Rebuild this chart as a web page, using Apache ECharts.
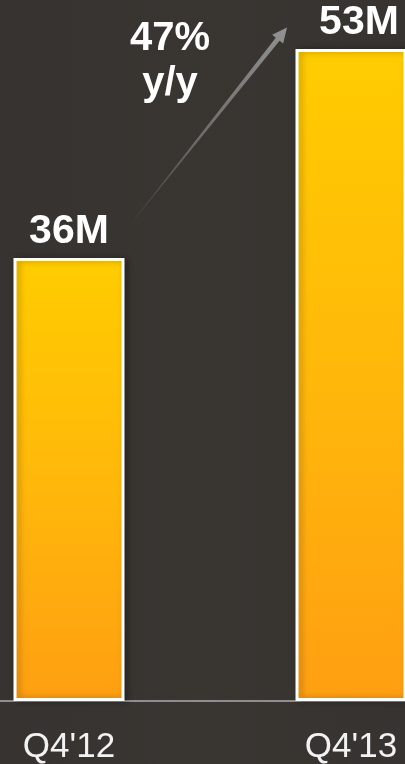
<!DOCTYPE html>
<html>
<head>
<meta charset="utf-8">
<script src="https://cdn.jsdelivr.net/npm/echarts@6/dist/echarts.min.js"></script>
<style>
  html, body { margin: 0; padding: 0; background: #373430; }
  #chart { width: 405px; height: 764px; }
</style>
</head>
<body>
<div id="chart"></div>
<script>
// Quarterly totals (millions)
const quarters = ["Q4'12", "Q4'13"];
const totals = [36, 53];
const valueLabels = ['36M', '53M'];
const growthText = ['47%', 'y/y'];

const FONT = '"Liberation Sans", Arial, Helvetica, sans-serif';

const chart = echarts.init(document.getElementById('chart'), null, { renderer: 'canvas' });

const barFill = new echarts.graphic.LinearGradient(0, 0, 0, 1, [
  { offset: 0, color: '#ffcc00' },
  { offset: 0.5, color: '#ffb80a' },
  { offset: 1, color: '#ff9f12' }
]);

chart.setOption({
  backgroundColor: {
    type: 'linear', x: 0, y: 0, x2: 1, y2: 0,
    colorStops: [
      { offset: 0, color: '#363330' },
      { offset: 0.5, color: '#393632' },
      { offset: 1, color: '#363330' }
    ]
  },
  animation: false,
  grid: { left: -72, right: -87, top: 12, bottom: 63, containLabel: false, outerBoundsMode: 'none' },
  xAxis: {
    type: 'category',
    data: quarters,
    axisLine: { show: true, lineStyle: { color: '#8e8e8e', width: 2 } },
    axisTick: { show: false },
    axisLabel: {
      color: '#f2f2f2',
      fontFamily: FONT,
      fontSize: 35,
      margin: 29
    }
  },
  yAxis: {
    type: 'value',
    min: 0,
    max: 56,
    show: false,
    splitLine: { show: false }
  },
  series: [{
    type: 'bar',
    barWidth: 111,
    data: totals.map((v, i) => ({
      value: v,
      label: {
        show: true,
        position: 'top',
        distance: 6,
        offset: i === 1 ? [8, 0] : [0, 0],
        formatter: valueLabels[i],
        color: '#ffffff',
        fontFamily: FONT,
        fontWeight: 'bold',
        fontSize: 41
      }
    })),
    itemStyle: {
      color: barFill,
      borderColor: '#ffffff',
      borderWidth: 3,
      shadowColor: 'rgba(0,0,0,0.3)',
      shadowBlur: 6,
      shadowOffsetX: 3
    }
  }]
});

// Growth arrow anchored to the two bar tops
function drawArrow() {
  const p0 = chart.convertToPixel({ gridIndex: 0 }, [0, totals[0]]);
  const p1 = chart.convertToPixel({ gridIndex: 0 }, [1, totals[1]]);
  const s = [p0[0] + 66, p0[1] - 39.5];
  const e = [p1[0] - 64, p1[1] - 21.5];
  const dx = e[0] - s[0], dy = e[1] - s[1];
  const len = Math.hypot(dx, dy);
  const u = [dx / len, dy / len];
  const n = [-u[1], u[0]];
  const headLen = 15, headHalf = 7, shaftEnd = 2.4, shaftStart = 0.3;
  const hb = [e[0] - u[0] * headLen, e[1] - u[1] * headLen];
  const pt = (p, k) => [p[0] + n[0] * k, p[1] + n[1] * k];
  const points = [
    pt(s, shaftStart), pt(hb, shaftEnd), pt(hb, headHalf), e,
    pt(hb, -headHalf), pt(hb, -shaftEnd), pt(s, -shaftStart)
  ];
  const tc = 170;
  chart.setOption({
    graphic: [
      {
        type: 'polygon',
        shape: { points },
        style: {
          fill: {
            type: 'linear', x: s[0], y: s[1], x2: e[0], y2: e[1], global: true,
            colorStops: [
              { offset: 0, color: 'rgba(110,110,110,0.2)' },
              { offset: 0.4, color: 'rgba(125,125,125,0.75)' },
              { offset: 1, color: '#929292' }
            ]
          }
        },
        z: 10
      },
      {
        type: 'text',
        x: tc,
        y: 16,
        style: {
          text: growthText.join('\n'),
          fill: '#ffffff',
          font: 'bold 40px ' + FONT,
          align: 'center',
          verticalAlign: 'top',
          lineHeight: 45
        },
        z: 10
      }
    ]
  });
}
drawArrow();
</script>
</body>
</html>
